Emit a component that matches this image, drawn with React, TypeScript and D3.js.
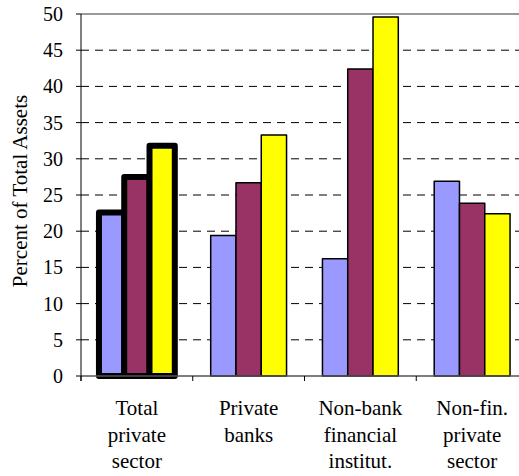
import React from "react";
import * as d3 from "d3";

const categories: string[][] = [
  ["Total", "private", "sector"],
  ["Private", "banks"],
  ["Non-bank", "financial", "institut."],
  ["Non-fin.", "private", "sector"],
];
const seriesA = [22.6, 19.4, 16.2, 26.9];
const seriesB = [27.5, 26.7, 42.4, 23.85];
const seriesC = [31.8, 33.3, 49.6, 22.4];
const seriesColors = ["#9999FF", "#993366", "#FFFF00"];
const yTicks = [0, 5, 10, 15, 20, 25, 30, 35, 40, 45, 50];
const yTitle = "Percent of Total Assets";

export default function App() {
  const W = 519, H = 476;
  const left = 81, right = 528, top = 14, bottom = 376;
  const series = [seriesA, seriesB, seriesC];
  const x0 = d3.scaleBand<number>().domain(categories.map((_, i) => i)).range([left, right]).padding(0);
  const x1 = d3.scaleBand<number>().domain([0, 1, 2]).range([0, x0.bandwidth()]).paddingInner(0).paddingOuter(0.71);
  const y = d3.scaleLinear().domain([0, 50]).range([bottom, top]);
  const font = "Liberation Serif, DejaVu Serif, serif";
  const ts = { fontFamily: font };

  return (
    <svg width={W} height={H} style={{ position: "absolute", left: 0, top: 0, fontFamily: font }}>
      <rect width={W} height={H} fill="#fff" />
      {yTicks.filter((t) => t > 0 && t < 50).map((t) => (
        <line key={t} x1={left} x2={right} y1={y(t)} y2={y(t)} stroke="#000" strokeWidth={1} strokeDasharray="8,6" />
      ))}
      <line x1={left} x2={right} y1={y(50)} y2={y(50)} stroke="#999" strokeWidth={2} />
      {categories.map((_, ci) =>
        series.map((s, si) => {
          const thick = ci === 0;
          const xx = (x0(ci) as number) + (x1(si) as number);
          return (
            <rect
              key={ci + "-" + si}
              x={xx}
              width={x1.bandwidth()}
              y={y(s[ci])}
              height={bottom - y(s[ci])}
              fill={seriesColors[si]}
              stroke="#000"
              strokeWidth={thick ? 6 : 1.5}
              strokeLinejoin="round"
            />
          );
        })
      )}
      <line x1={left} x2={right} y1={bottom} y2={bottom} stroke="#555" strokeWidth={1.5} />
      <line x1={left} x2={left} y1={top} y2={bottom + 5} stroke="#000" strokeWidth={1} />
      {yTicks.map((t) => (
        <g key={t}>
          <line x1={left - 5} x2={left} y1={y(t)} y2={y(t)} stroke="#000" />
          <text x={63} y={y(t)} dy="0.35em" textAnchor="end" fontSize={20} fill="#000" style={ts}>{t}</text>
        </g>
      ))}
      {[0, 1, 2, 3].map((i) => (
        <line key={i} x1={(x0(i) as number)} x2={(x0(i) as number)} y1={bottom} y2={bottom + 5} stroke="#000" />
      ))}
      {categories.map((lines, ci) => (
        <text key={ci} x={(x0(ci) as number) + x0.bandwidth() / 2} textAnchor="middle" fontSize={21} fill="#000" style={ts}>
          {lines.map((l, li) => (
            <tspan key={li} x={(x0(ci) as number) + x0.bandwidth() / 2} y={415 + li * 26.7}>{l}</tspan>
          ))}
        </text>
      ))}
      <text transform={`translate(27, 191) rotate(-90)`} textAnchor="middle" fontSize={21} fill="#000" style={ts}>{yTitle}</text>
    </svg>
  );
}
